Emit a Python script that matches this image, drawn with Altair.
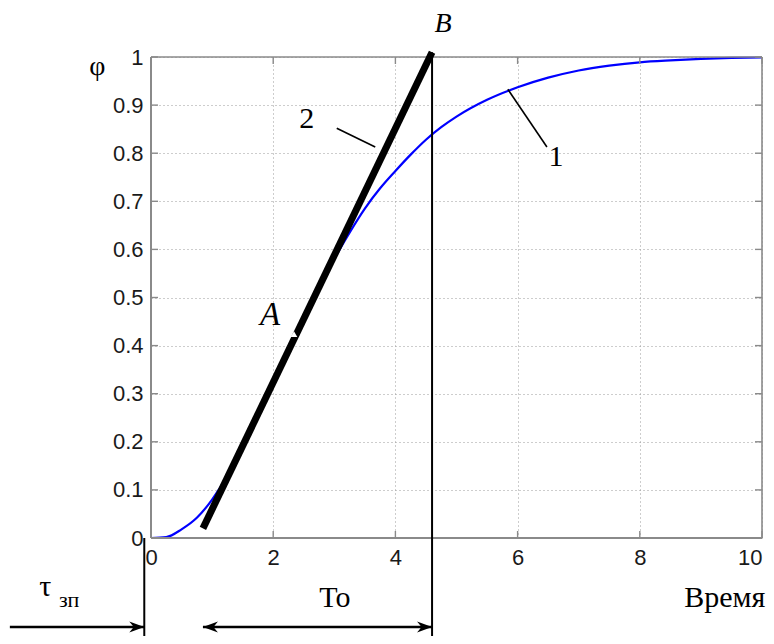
import altair as alt
import pandas as pd

# ---- data ----
t_vals = [0, 0.25, 0.5, 0.75, 1.0, 1.25, 1.5, 1.75, 2.0, 2.25, 2.5, 2.75, 3.0,
          3.25, 3.5, 3.75, 4.0, 4.25, 4.5, 4.75, 5.0, 5.5, 6.0, 6.5, 7.0, 7.5,
          8.0, 8.5, 9.0, 9.5, 10.0]
phi_vals = [0, 0.002, 0.018, 0.042, 0.08, 0.13, 0.195, 0.258, 0.322, 0.386,
            0.45, 0.517, 0.58, 0.635, 0.685, 0.727, 0.763, 0.797, 0.828,
            0.854, 0.876, 0.911, 0.937, 0.957, 0.972, 0.982, 0.989, 0.993,
            0.996, 0.998, 0.999]

tan_t = [0.85, 4.6]
tan_phi = [0.02, 1.01]

x_ticks = [0, 2, 4, 6, 8, 10]
y_ticks = [0, 0.1, 0.2, 0.3, 0.4, 0.5, 0.6, 0.7, 0.8, 0.9, 1]

# annotation geometry (data units)
vlines_x = [-0.11, 4.6]
vlines_y1 = [0.0, 1.01]
vlines_y2 = [-0.25, -0.25]

leader_x1 = [3.04, 5.84]
leader_y1 = [0.852, 0.933]
leader_x2 = [3.67, 6.48]
leader_y2 = [0.813, 0.813]

arrow_x1 = [-2.31, 0.85]
arrow_x2 = [-0.11, 4.6]
arrow_y = [-0.185, -0.185]

head_x = [-0.11, 4.6, 0.85]
head_y = [-0.185, -0.185, -0.185]
head_dir = ["r", "r", "l"]

gap_x = [2.34]
gap_y = [0.424]

labels_serif = ["2", "1", "To", "Время", "τ", "φ"]
labels_serif_x = [2.55, 6.63, 3.01, 9.39, -1.73, -0.88]
labels_serif_y = [0.871, 0.792, -0.125, -0.125, -0.102, 0.98]
labels_serif_size = [30, 30, 30, 30, 30, 28]

labels_sub = ["зп"]
labels_sub_x = [-1.34]
labels_sub_y = [-0.129]

labels_ital = ["B", "A"]
labels_ital_x = [4.78, 1.95]
labels_ital_y = [1.069, 0.464]
labels_ital_size = [28, 33]

# ---- tables ----
curve = pd.DataFrame({"x": t_vals, "y": phi_vals})
tangent = pd.DataFrame({"x": tan_t, "y": tan_phi})
vl = pd.DataFrame({"x": vlines_x, "y": vlines_y1, "y2": vlines_y2})
ld = pd.DataFrame({"x": leader_x1, "y": leader_y1, "x2": leader_x2, "y2": leader_y2})
ar = pd.DataFrame({"x": arrow_x1, "x2": arrow_x2, "y": arrow_y})
hd = pd.DataFrame({"x": head_x, "y": head_y, "d": head_dir})
gp = pd.DataFrame({"x": gap_x, "y": gap_y})
ts = pd.DataFrame({"x": labels_serif_x, "y": labels_serif_y, "text": labels_serif,
                   "size": labels_serif_size})
tsub = pd.DataFrame({"x": labels_sub_x, "y": labels_sub_y, "text": labels_sub})
ti = pd.DataFrame({"x": labels_ital_x, "y": labels_ital_y, "text": labels_ital,
                   "size": labels_ital_size})
xt = pd.DataFrame({"x": x_ticks})
yt = pd.DataFrame({"y": y_ticks})

W, H = 611, 481
GRAY = "#8a8a8a"
SERIF = "Liberation Serif"

base_axis = dict(grid=True, gridDash=[1, 3], gridColor="#9a9a9a", gridWidth=1,
                 domain=False, ticks=False, tickSize=0, labelFont="Liberation Sans",
                 labelFontSize=22, labelColor="#1a1a1a",
                 labelOverlap=False, labelFlush=False, title=None)


def X(field="x:Q"):
    return alt.X(field, scale=alt.Scale(domain=[0, 10], nice=False, zero=False),
                 axis=alt.Axis(values=x_ticks, labelPadding=9, format="d",
                               labelAlign=alt.ExprRef(expr="datum.value == 10 ? 'right' : 'center'"),
                               **base_axis))


def Y(field="y:Q"):
    return alt.Y(field, scale=alt.Scale(domain=[0, 1], nice=False, zero=False),
                 axis=alt.Axis(values=y_ticks, labelPadding=8, format="~g", **base_axis))


curve_layer = alt.Chart(curve).mark_line(color="#0000ff", strokeWidth=2.2,
                                         interpolate="monotone").encode(x=X(), y=Y())

tangent_layer = alt.Chart(tangent).mark_line(color="black", strokeWidth=7,
                                             strokeCap="butt").encode(x=X(), y=Y())

gap_layer = alt.Chart(gp).mark_point(shape="triangle-up", size=45, filled=True,
                                     color="white", opacity=1, strokeWidth=0).encode(
    x=X(), y=Y())

one = pd.DataFrame({"a": [0]})
frame = [
    alt.Chart(one).mark_rule(color=GRAY, strokeWidth=1.6).encode(
        x=alt.value(0), x2=alt.value(W), y=alt.value(0)),
    alt.Chart(one).mark_rule(color=GRAY, strokeWidth=2).encode(
        x=alt.value(0), x2=alt.value(W), y=alt.value(H)),
    alt.Chart(one).mark_rule(color=GRAY, strokeWidth=2).encode(
        x=alt.value(0), y=alt.value(0), y2=alt.value(H)),
    alt.Chart(one).mark_rule(color=GRAY, strokeWidth=1.6).encode(
        x=alt.value(W), y=alt.value(0), y2=alt.value(H)),
]

tick_layers = [
    alt.Chart(xt).mark_rule(color=GRAY, strokeWidth=1.4).encode(
        x=X(), y=alt.value(H), y2=alt.value(H - 7)),
    alt.Chart(xt).mark_rule(color=GRAY, strokeWidth=1.4).encode(
        x=X(), y=alt.value(0), y2=alt.value(7)),
    alt.Chart(yt).mark_rule(color=GRAY, strokeWidth=1.4).encode(
        y=Y(), x=alt.value(0), x2=alt.value(7)),
    alt.Chart(yt).mark_rule(color=GRAY, strokeWidth=1.4).encode(
        y=Y(), x=alt.value(W), x2=alt.value(W - 7)),
]

vl_layer = alt.Chart(vl).mark_rule(color="black", strokeWidth=2).encode(
    x=X(), y=Y(), y2="y2:Q")

ld_layer = alt.Chart(ld).mark_rule(color="black", strokeWidth=1.6).encode(
    x=X(), x2="x2:Q", y=Y(), y2="y2:Q")

ar_layer = alt.Chart(ar).mark_rule(color="black", strokeWidth=2.5).encode(
    x=X(), x2="x2:Q", y=Y())

RIGHT = "M0,0 L-1,-0.36 L-0.7,0 L-1,0.36 Z"
LEFT = "M0,0 L1,-0.36 L0.7,0 L1,0.36 Z"
head_r = alt.Chart(hd).transform_filter("datum.d == 'r'").mark_point(
    shape=RIGHT, size=900, filled=True, color="black", opacity=1, strokeWidth=0).encode(
    x=X(), y=Y())
head_l = alt.Chart(hd).transform_filter("datum.d == 'l'").mark_point(
    shape=LEFT, size=900, filled=True, color="black", opacity=1, strokeWidth=0).encode(
    x=X(), y=Y())

txt_serif = alt.Chart(ts).mark_text(font=SERIF, color="black",
                                    align="center", baseline="middle").encode(
    x=X(), y=Y(), text="text:N", size=alt.Size("size:Q", scale=None, legend=None))

txt_sub = alt.Chart(tsub).mark_text(font=SERIF, color="black",
                                    fontSize=22, align="center", baseline="middle").encode(
    x=X(), y=Y(), text="text:N")

txt_ital = alt.Chart(ti).mark_text(font=SERIF, fontStyle="italic",
                                   color="black", align="center", baseline="middle").encode(
    x=X(), y=Y(), text="text:N", size=alt.Size("size:Q", scale=None, legend=None))

chart = alt.layer(
    curve_layer, *tick_layers, *frame, tangent_layer, gap_layer, vl_layer, ld_layer,
    ar_layer, head_r, head_l, txt_serif, txt_sub, txt_ital,
).properties(
    width=W, height=H,
    autosize=alt.AutoSizeParams(type="none"),
    padding={"left": 143, "top": 49, "right": 4, "bottom": 98},
    background="white",
).configure_view(strokeOpacity=0)

chart.save("out.html", embed_options={"renderer": "svg", "actions": False})
